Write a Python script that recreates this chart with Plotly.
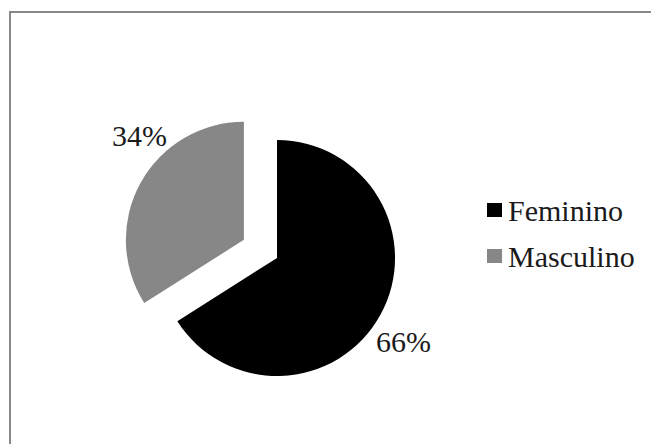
import plotly.graph_objects as go

# Distribution by sex
labels = ["Feminino", "Masculino"]
values = [66, 34]
colors = ["#000000", "#878787"]
pulls = [0, 0.32]

W, H = 651, 444
FONT = "'Times New Roman', 'Liberation Serif', 'DejaVu Serif', serif"
TEXT_COLOR = "#1a1a1a"


def px(x):
    return x / W


def py(y):
    return 1 - y / H


fig = go.Figure()

fig.add_trace(go.Pie(
    labels=labels,
    values=values,
    marker=dict(colors=colors, line=dict(width=0)),
    pull=pulls,
    sort=False,
    direction="clockwise",
    rotation=0,
    textinfo="none",
    showlegend=False,
    hoverinfo="label+percent",
    domain=dict(x=[px(121.2), px(432.8)], y=[py(413.8), py(102.2)]),
))

total = sum(values)
pct_text = [f"{round(v / total * 100)}%" for v in values]

# percentage labels beside each slice
label_pos = [(403, 341), (139, 135)]
annotations = []
for txt, (lx, ly) in zip(pct_text, label_pos):
    annotations.append(dict(
        x=px(lx), y=py(ly), xref="paper", yref="paper",
        text=txt, showarrow=False, xanchor="center", yanchor="middle",
        font=dict(family=FONT, size=30, color=TEXT_COLOR),
    ))

# legend: colour square + label per category
shapes = []
legend_rows = [210, 256]
for lab, col, ry in zip(labels, colors, legend_rows):
    shapes.append(dict(
        type="rect", xref="paper", yref="paper",
        x0=px(487), x1=px(502), y0=py(ry + 7), y1=py(ry - 7),
        fillcolor=col, line=dict(width=0),
    ))
    annotations.append(dict(
        x=px(506), y=py(ry), xref="paper", yref="paper",
        text=lab, showarrow=False, xanchor="left", yanchor="middle",
        font=dict(family=FONT, size=30, color=TEXT_COLOR),
    ))

# chart frame
shapes.append(dict(
    type="rect", xref="paper", yref="paper",
    x0=px(10), x1=px(W + 10), y0=py(H + 10), y1=py(12),
    line=dict(color="#888888", width=2), fillcolor="rgba(0,0,0,0)",
))

fig.update_layout(
    width=W, height=H,
    margin=dict(l=0, r=0, t=0, b=0),
    paper_bgcolor="white",
    plot_bgcolor="white",
    showlegend=False,
    shapes=shapes,
    annotations=annotations,
)

fig.write_html("out.html")
